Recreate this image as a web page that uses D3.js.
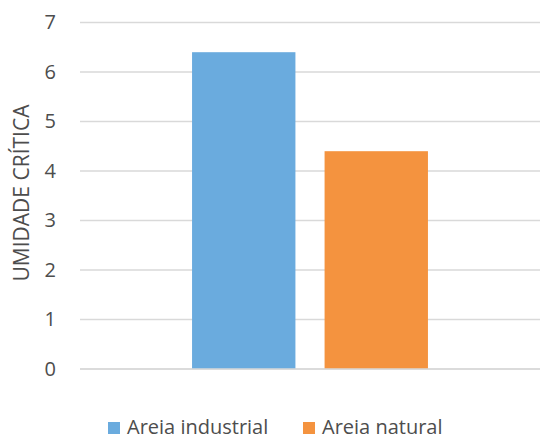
<!DOCTYPE html>
<html>
<head>
<meta charset="utf-8">
<script src="https://cdn.jsdelivr.net/npm/d3@7"></script>
<style>
  html, body { margin: 0; padding: 0; background: #fff; }
  text { font-family: "Open Sans", "Liberation Sans", sans-serif; fill: #4d4d4d; }
</style>
</head>
<body>
<svg id="chart" width="540" height="440"></svg>
<script>
// Chart data
const categories = [""];
const seriesNames = ["Areia industrial", "Areia natural"];
const seriesValues = [6.4, 4.4];
const seriesColors = ["#6aabde", "#f4933f"];
const yTicks = [0, 1, 2, 3, 4, 5, 6, 7];
const yLabel = "UMIDADE CRÍTICA";

const svg = d3.select("#chart");
const plot = { left: 80, right: 540, top: 22.5, bottom: 369 };

const y = d3.scaleLinear().domain([0, 7]).range([plot.bottom, plot.top]);
const x0 = d3.scaleBand().domain(categories).range([plot.left, plot.right])
  .paddingInner(0).paddingOuter(0.475);
const x1 = d3.scaleBand().domain(seriesNames).range([0, x0.bandwidth()])
  .paddingInner(0.22).paddingOuter(0);

// Horizontal gridlines
svg.append("g")
  .selectAll("line")
  .data(yTicks)
  .join("line")
  .attr("x1", plot.left).attr("x2", plot.right)
  .attr("y1", d => y(d)).attr("y2", d => y(d))
  .attr("stroke", "#d9d9d9").attr("stroke-width", 1.5);

// Y axis tick labels
const yAxis = d3.axisLeft(y).tickValues(yTicks).tickFormat(d3.format("d"))
  .tickSize(0).tickPadding(0);
const yg = svg.append("g").attr("transform", `translate(56,0)`).call(yAxis);
yg.select(".domain").remove();
yg.selectAll("text")
  .attr("font-size", 20)
  .attr("font-family", "'Open Sans', sans-serif")
  .attr("fill", "#4d4d4d");

// Y axis title
svg.append("text")
  .attr("transform", `translate(29,193) rotate(-90)`)
  .attr("text-anchor", "middle")
  .attr("font-size", 21)
  .text(yLabel);

// Bars
const data = seriesNames.map((name, i) => ({ cat: categories[0], name, value: seriesValues[i], color: seriesColors[i] }));
svg.append("g")
  .selectAll("rect")
  .data(data)
  .join("rect")
  .attr("x", d => x0(d.cat) + x1(d.name))
  .attr("width", x1.bandwidth())
  .attr("y", d => y(d.value))
  .attr("height", d => y(0) - y(d.value))
  .attr("fill", d => d.color);

// Baseline
svg.append("line")
  .attr("x1", plot.left).attr("x2", plot.right)
  .attr("y1", y(0)).attr("y2", y(0))
  .attr("stroke", "#d9d9d9").attr("stroke-width", 1.5);

// Legend
const legendX = [108, 303];
const legend = svg.append("g")
  .selectAll("g")
  .data(data)
  .join("g")
  .attr("transform", (d, i) => `translate(${legendX[i]},422)`);
legend.append("rect").attr("width", 12).attr("height", 12).attr("fill", d => d.color);
legend.append("text")
  .attr("x", 19).attr("y", 12)
  .attr("font-size", 20)
  .text(d => d.name);
</script>
</body>
</html>
